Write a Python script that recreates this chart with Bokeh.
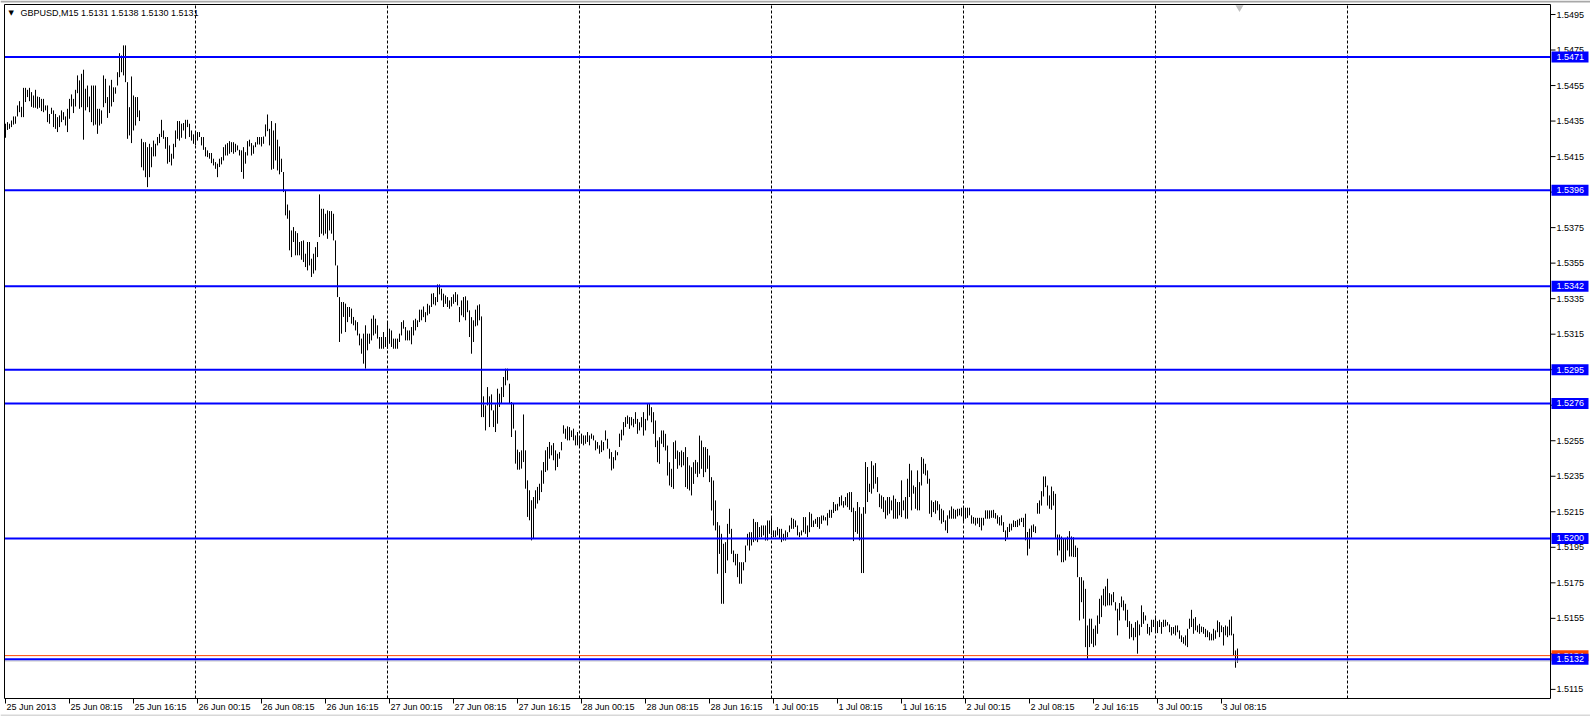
from bokeh.plotting import figure
from bokeh.models import Range1d
from bokeh.core.properties import value
from bokeh.embed import file_html
from bokeh.resources import INLINE

# ---------------- data ----------------
symbol = "GBPUSD,M15"
last_ohlc = [1.5131, 1.5138, 1.5130, 1.5131]
levels = [1.5471, 1.5396, 1.5342, 1.5295, 1.5276, 1.5200, 1.5132]
ask_price = 1.5134
bid_price = 1.5131

time_labels = ["25 Jun 2013", "25 Jun 08:15", "25 Jun 16:15", "26 Jun 00:15", "26 Jun 08:15",
               "26 Jun 16:15", "27 Jun 00:15", "27 Jun 08:15", "27 Jun 16:15", "28 Jun 00:15",
               "28 Jun 08:15", "28 Jun 16:15", "1 Jul 00:15", "1 Jul 08:15", "1 Jul 16:15",
               "2 Jul 00:15", "2 Jul 08:15", "2 Jul 16:15", "3 Jul 00:15", "3 Jul 08:15"]
bars_per_label = 32
bars_per_day = 96
y_ticks = [1.5115, 1.5135, 1.5155, 1.5175, 1.5195, 1.5215, 1.5235, 1.5255, 1.5275, 1.5295,
           1.5315, 1.5335, 1.5355, 1.5375, 1.5395, 1.5415, 1.5435, 1.5455, 1.5475, 1.5495]

highs_a = [1.54335, 1.54344, 1.54335, 1.54353, 1.54376, 1.54376, 1.54438, 1.54462, 1.54430, 1.54537,
           1.54537, 1.54526, 1.54537, 1.54513, 1.54494, 1.54526, 1.54488, 1.54485, 1.54475, 1.54475,
           1.54438, 1.54438, 1.54390, 1.54425, 1.54410, 1.54390, 1.54372, 1.54382, 1.54410, 1.54400,
           1.54376, 1.54419, 1.54475, 1.54500, 1.54475, 1.54526, 1.54607, 1.54579, 1.54616, 1.54639,
           1.54532, 1.54550, 1.54488, 1.54550, 1.54550, 1.54550, 1.54419, 1.54419, 1.54410, 1.54607,
           1.54588, 1.54485, 1.54550, 1.54582, 1.54540, 1.54540, 1.54625, 1.54732, 1.54719, 1.54776,
           1.54776, 1.54569, 1.54428, 1.54601, 1.54494, 1.54485, 1.54485, 1.54410, 1.54250, 1.54231,
           1.54231, 1.54203, 1.54222, 1.54203, 1.54240, 1.54222, 1.54260, 1.54278, 1.54357, 1.54297,
           1.54260, 1.54260, 1.54213, 1.54166, 1.54222, 1.54297, 1.54350, 1.54350, 1.54335, 1.54339,
           1.54357, 1.54357, 1.54335, 1.54297, 1.54275, 1.54288, 1.54288, 1.54288, 1.54260, 1.54260,
           1.54203, 1.54185, 1.54170, 1.54170, 1.54138]
lows_a = [1.54256, 1.54300, 1.54306, 1.54316, 1.54330, 1.54335, 1.54376, 1.54400, 1.54372, 1.54372,
          1.54457, 1.54485, 1.54462, 1.54430, 1.54425, 1.54425, 1.54419, 1.54425, 1.54406, 1.54400,
          1.54410, 1.54344, 1.54335, 1.54390, 1.54316, 1.54306, 1.54288, 1.54316, 1.54344, 1.54357,
          1.54325, 1.54288, 1.54363, 1.54432, 1.54395, 1.54432, 1.54507, 1.54419, 1.54428, 1.54245,
          1.54410, 1.54428, 1.54400, 1.54344, 1.54325, 1.54330, 1.54278, 1.54325, 1.54335, 1.54428,
          1.54451, 1.54368, 1.54395, 1.54432, 1.54457, 1.54504, 1.54550, 1.54597, 1.54625, 1.54607,
          1.54569, 1.54250, 1.54269, 1.54226, 1.54297, 1.54325, 1.54372, 1.54350, 1.54090, 1.54072,
          1.54034, 1.53978, 1.54034, 1.54090, 1.54151, 1.54151, 1.54213, 1.54226, 1.54260, 1.54250,
          1.54194, 1.54110, 1.54119, 1.54100, 1.54138, 1.54203, 1.54250, 1.54240, 1.54256, 1.54297,
          1.54250, 1.54316, 1.54260, 1.54240, 1.54222, 1.54213, 1.54240, 1.54260, 1.54213, 1.54188,
          1.54151, 1.54147, 1.54138, 1.54113, 1.54100]

highs_b = [1.54119, 1.54110, 1.54138, 1.54147, 1.54203, 1.54218, 1.54226, 1.54237, 1.54231, 1.54231,
           1.54222, 1.54213, 1.54188, 1.54185, 1.54203, 1.54175, 1.54237, 1.54245, 1.54226, 1.54213,
           1.54231, 1.54260, 1.54260, 1.54260, 1.54263, 1.54331, 1.54387, 1.54306, 1.54350, 1.54297,
           1.54338, 1.54245, 1.54207, 1.54138, 1.54063, 1.53960, 1.53880, 1.53847, 1.53734, 1.53753,
           1.53730, 1.53719, 1.53669, 1.53674, 1.53678, 1.53603, 1.53669, 1.53669, 1.53575, 1.53603,
           1.53640, 1.53669, 1.53937, 1.53856, 1.53856, 1.53828, 1.53847, 1.53843, 1.53843, 1.53828,
           1.53678, 1.53537, 1.53359, 1.53331, 1.53331, 1.53322, 1.53303, 1.53303, 1.53294, 1.53247,
           1.53228, 1.53218, 1.53153, 1.53125, 1.53153, 1.53200, 1.53153, 1.53153, 1.53237, 1.53256,
           1.53237, 1.53200, 1.53134, 1.53134, 1.53162, 1.53134, 1.53218, 1.53181, 1.53171, 1.53125,
           1.53125, 1.53125, 1.53153, 1.53218, 1.53228, 1.53190, 1.53171, 1.53171, 1.53190, 1.53228,
           1.53237, 1.53228, 1.53288]
lows_b = [1.54081, 1.54034, 1.54091, 1.54106, 1.54128, 1.54156, 1.54156, 1.54166, 1.54175, 1.54166,
          1.54175, 1.54185, 1.54156, 1.54063, 1.54025, 1.54110, 1.54156, 1.54207, 1.54156, 1.54166,
          1.54203, 1.54218, 1.54218, 1.54207, 1.54222, 1.54263, 1.54293, 1.54213, 1.54076, 1.54081,
          1.54128, 1.54072, 1.54050, 1.54063, 1.53950, 1.53819, 1.53800, 1.53622, 1.53584, 1.53669,
          1.53594, 1.53594, 1.53594, 1.53569, 1.53556, 1.53528, 1.53509, 1.53537, 1.53472, 1.53491,
          1.53509, 1.53584, 1.53697, 1.53716, 1.53706, 1.53716, 1.53687, 1.53734, 1.53716, 1.53678,
          1.53537, 1.53359, 1.53106, 1.53153, 1.53247, 1.53162, 1.53218, 1.53247, 1.53209, 1.53200,
          1.53171, 1.53143, 1.53087, 1.53040, 1.52984, 1.52956, 1.53059, 1.53096, 1.53115, 1.53143,
          1.53153, 1.53125, 1.53068, 1.53068, 1.53068, 1.53078, 1.53068, 1.53096, 1.53078, 1.53068,
          1.53068, 1.53068, 1.53106, 1.53143, 1.53181, 1.53115, 1.53115, 1.53115, 1.53093, 1.53143,
          1.53171, 1.53190, 1.53218]

highs_c = [1.53288, 1.53306, 1.53274, 1.53321, 1.53312, 1.53378, 1.53381, 1.53359, 1.53430, 1.53430,
           1.53406, 1.53378, 1.53368, 1.53359, 1.53340, 1.53359, 1.53374, 1.53387, 1.53374, 1.53303,
           1.53340, 1.53359, 1.53363, 1.53340, 1.53284, 1.53246, 1.53228, 1.53288, 1.53312, 1.53318,
           1.53250, 1.52800, 1.52749, 1.52852, 1.52800, 1.52811, 1.52721, 1.52755, 1.52843, 1.52815,
           1.52852, 1.52909, 1.52956, 1.52956, 1.52871, 1.52768, 1.52759, 1.52608, 1.52500, 1.52486,
           1.52496, 1.52698, 1.52496, 1.52327, 1.52271, 1.52215, 1.52233, 1.52271, 1.52290, 1.52308,
           1.52383, 1.52430, 1.52496, 1.52515, 1.52543, 1.52524, 1.52537, 1.52496, 1.52477, 1.52486,
           1.52543, 1.52637, 1.52618, 1.52631, 1.52627, 1.52608, 1.52618, 1.52580, 1.52599, 1.52571,
           1.52590, 1.52580, 1.52580, 1.52599, 1.52580, 1.52590, 1.52580, 1.52552, 1.52543, 1.52524,
           1.52552, 1.52543, 1.52608, 1.52561, 1.52505, 1.52486, 1.52458, 1.52496, 1.52486, 1.52590,
           1.52612, 1.52655, 1.52683]
lows_c = [1.53228, 1.53246, 1.53218, 1.53256, 1.53265, 1.53303, 1.53318, 1.53312, 1.53331, 1.53374,
          1.53340, 1.53303, 1.53321, 1.53303, 1.53293, 1.53306, 1.53321, 1.53331, 1.53312, 1.53218,
          1.53256, 1.53246, 1.53228, 1.53274, 1.53134, 1.53040, 1.53106, 1.53194, 1.53199, 1.53228,
          1.52683, 1.52683, 1.52608, 1.52749, 1.52627, 1.52721, 1.52627, 1.52599, 1.52646, 1.52740,
          1.52759, 1.52796, 1.52862, 1.52890, 1.52759, 1.52571, 1.52618, 1.52421, 1.52387, 1.52387,
          1.52393, 1.52430, 1.52280, 1.52121, 1.52102, 1.51989, 1.51999, 1.52168, 1.52196, 1.52215,
          1.52261, 1.52308, 1.52374, 1.52383, 1.52449, 1.52468, 1.52440, 1.52383, 1.52402, 1.52449,
          1.52496, 1.52590, 1.52561, 1.52552, 1.52552, 1.52571, 1.52552, 1.52524, 1.52524, 1.52515,
          1.52533, 1.52524, 1.52533, 1.52543, 1.52524, 1.52561, 1.52552, 1.52496, 1.52505, 1.52477,
          1.52486, 1.52496, 1.52552, 1.52505, 1.52449, 1.52383, 1.52393, 1.52440, 1.52468, 1.52515,
          1.52552, 1.52580, 1.52627]

highs_d = [1.52692, 1.52683, 1.52683, 1.52673, 1.52711, 1.52673, 1.52654, 1.52683, 1.52711, 1.52673,
           1.52761, 1.52758, 1.52739, 1.52711, 1.52664, 1.52551, 1.52570, 1.52608, 1.52608, 1.52589,
           1.52523, 1.52429, 1.52392, 1.52542, 1.52551, 1.52495, 1.52486, 1.52495, 1.52486, 1.52514,
           1.52458, 1.52411, 1.52401, 1.52429, 1.52442, 1.52429, 1.52579, 1.52551, 1.52514, 1.52514,
           1.52504, 1.52467, 1.52345, 1.52326, 1.52214, 1.52092, 1.52073, 1.52026, 1.51970, 1.51979,
           1.52082, 1.52167, 1.52054, 1.51932, 1.51913, 1.51913, 1.51866, 1.51866, 1.51866, 1.51960,
           1.52026, 1.52035, 1.52035, 1.52110, 1.52092, 1.52092, 1.52064, 1.52073, 1.52073, 1.52073,
           1.52101, 1.52101, 1.52120, 1.52045, 1.52045, 1.52064, 1.52054, 1.52054, 1.52026, 1.52045,
           1.52035, 1.52073, 1.52116, 1.52110, 1.52101, 1.52073, 1.52035, 1.52045, 1.52120, 1.52120,
           1.52073, 1.52148, 1.52139, 1.52101, 1.52110, 1.52120, 1.52120, 1.52129, 1.52129, 1.52120,
           1.52142, 1.52161]
lows_d = [1.52645, 1.52617, 1.52636, 1.52626, 1.52645, 1.52589, 1.52608, 1.52626, 1.52579, 1.52608,
          1.52664, 1.52692, 1.52654, 1.52589, 1.52514, 1.52429, 1.52420, 1.52533, 1.52514, 1.52495,
          1.52354, 1.52298, 1.52289, 1.52279, 1.52448, 1.52392, 1.52411, 1.52401, 1.52411, 1.52289,
          1.52279, 1.52270, 1.52242, 1.52307, 1.52364, 1.52345, 1.52364, 1.52392, 1.52345, 1.52373,
          1.52392, 1.52317, 1.52157, 1.52073, 1.52045, 1.51801, 1.51913, 1.51632, 1.51632, 1.51805,
          1.51876, 1.52026, 1.51913, 1.51866, 1.51848, 1.51782, 1.51745, 1.51745, 1.51820, 1.51866,
          1.51960, 1.51932, 1.51960, 1.51979, 1.51988, 1.51979, 1.52007, 1.52007, 1.52017, 1.51988,
          1.51988, 1.52026, 1.52017, 1.52007, 1.52007, 1.52017, 1.51998, 1.51979, 1.51988, 1.51988,
          1.52007, 1.52035, 1.52054, 1.52054, 1.52064, 1.52017, 1.52007, 1.52017, 1.52035, 1.52026,
          1.52007, 1.52035, 1.52064, 1.52064, 1.52082, 1.52064, 1.52054, 1.52082, 1.52101, 1.52101,
          1.52073, 1.52116]

highs_e = [1.52161, 1.52205, 1.52192, 1.52195, 1.52233, 1.52242, 1.52210, 1.52233, 1.52255, 1.52261,
           1.52261, 1.52173, 1.52154, 1.52205, 1.52176, 1.52139, 1.52176, 1.52430, 1.52402, 1.52308,
           1.52435, 1.52411, 1.52424, 1.52345, 1.52252, 1.52242, 1.52233, 1.52214, 1.52233, 1.52233,
           1.52214, 1.52242, 1.52223, 1.52205, 1.52205, 1.52327, 1.52214, 1.52233, 1.52336, 1.52420,
           1.52383, 1.52298, 1.52289, 1.52383, 1.52317, 1.52458, 1.52449, 1.52420, 1.52383, 1.52336,
           1.52214, 1.52205, 1.52214, 1.52210, 1.52192, 1.52167, 1.52158, 1.52102, 1.52130, 1.52158,
           1.52180, 1.52167, 1.52161, 1.52167, 1.52167, 1.52173, 1.52173, 1.52173, 1.52173, 1.52173,
           1.52130, 1.52120, 1.52116, 1.52116, 1.52116, 1.52116, 1.52116, 1.52158, 1.52158, 1.52158,
           1.52158, 1.52161, 1.52143, 1.52130, 1.52120, 1.52130, 1.52092, 1.52045, 1.52064, 1.52083,
           1.52083, 1.52102, 1.52098, 1.52105, 1.52111, 1.52116, 1.52116, 1.52139, 1.52036, 1.52055,
           1.52073, 1.52079, 1.52068]
lows_e = [1.52116, 1.52143, 1.52154, 1.52158, 1.52180, 1.52186, 1.52173, 1.52186, 1.52176, 1.52161,
          1.52148, 1.51985, 1.52036, 1.52026, 1.51989, 1.51805, 1.51805, 1.52139, 1.52205, 1.52261,
          1.52252, 1.52280, 1.52308, 1.52261, 1.52176, 1.52167, 1.52148, 1.52111, 1.52130, 1.52139,
          1.52158, 1.52111, 1.52111, 1.52111, 1.52130, 1.52120, 1.52158, 1.52111, 1.52111, 1.52233,
          1.52158, 1.52252, 1.52167, 1.52158, 1.52158, 1.52298, 1.52364, 1.52355, 1.52308, 1.52139,
          1.52120, 1.52148, 1.52139, 1.52158, 1.52102, 1.52083, 1.52092, 1.52045, 1.52030, 1.52111,
          1.52111, 1.52111, 1.52111, 1.52124, 1.52130, 1.52124, 1.52098, 1.52111, 1.52116, 1.52130,
          1.52083, 1.52083, 1.52073, 1.52083, 1.52064, 1.52045, 1.52073, 1.52111, 1.52111, 1.52111,
          1.52116, 1.52116, 1.52111, 1.52083, 1.52073, 1.52073, 1.52036, 1.51985, 1.52004, 1.52036,
          1.52045, 1.52064, 1.52064, 1.52064, 1.52073, 1.52092, 1.52064, 1.51989, 1.51904, 1.51942,
          1.52004, 1.52036, 1.52030]

highs_f = [1.52199, 1.52214, 1.52266, 1.52349, 1.52349, 1.52298, 1.52242, 1.52292, 1.52266, 1.52251,
           1.52022, 1.52022, 1.52011, 1.51998, 1.52003, 1.52011, 1.52041, 1.52011, 1.52007, 1.51960,
           1.51947, 1.51782, 1.51782, 1.51763, 1.51716, 1.51510, 1.51548, 1.51548, 1.51491, 1.51510,
           1.51566, 1.51660, 1.51679, 1.51716, 1.51730, 1.51773, 1.51692, 1.51685, 1.51698, 1.51641,
           1.51604, 1.51636, 1.51673, 1.51651, 1.51632, 1.51598, 1.51534, 1.51519, 1.51497, 1.51529,
           1.51538, 1.51516, 1.51623, 1.51585, 1.51566, 1.51519, 1.51501, 1.51542, 1.51542, 1.51557,
           1.51534, 1.51542, 1.51529, 1.51542, 1.51542, 1.51529, 1.51516, 1.51501, 1.51501, 1.51510,
           1.51510, 1.51482, 1.51454, 1.51444, 1.51454, 1.51491, 1.51548, 1.51598, 1.51548, 1.51557,
           1.51510, 1.51519, 1.51504, 1.51501, 1.51491, 1.51482, 1.51472, 1.51463, 1.51491, 1.51482,
           1.51538, 1.51529, 1.51510, 1.51501, 1.51510, 1.51504, 1.51542, 1.51561, 1.51463, 1.51369,
           1.51380]
lows_f = [1.52139, 1.52139, 1.52185, 1.52236, 1.52289, 1.52185, 1.52167, 1.52161, 1.52185, 1.52003,
          1.51904, 1.51932, 1.51866, 1.51866, 1.51876, 1.51932, 1.51898, 1.51898, 1.51895, 1.51895,
          1.51782, 1.51538, 1.51641, 1.51548, 1.51388, 1.51322, 1.51388, 1.51407, 1.51388, 1.51397,
          1.51463, 1.51519, 1.51557, 1.51623, 1.51617, 1.51623, 1.51623, 1.51623, 1.51641, 1.51594,
          1.51454, 1.51538, 1.51613, 1.51594, 1.51538, 1.51501, 1.51435, 1.51444, 1.51426, 1.51444,
          1.51351, 1.51454, 1.51501, 1.51519, 1.51538, 1.51463, 1.51454, 1.51472, 1.51501, 1.51472,
          1.51467, 1.51501, 1.51463, 1.51501, 1.51504, 1.51510, 1.51472, 1.51454, 1.51463, 1.51454,
          1.51472, 1.51435, 1.51416, 1.51407, 1.51397, 1.51388, 1.51491, 1.51501, 1.51463, 1.51482,
          1.51472, 1.51463, 1.51472, 1.51463, 1.51444, 1.51444, 1.51426, 1.51426, 1.51426, 1.51435,
          1.51472, 1.51444, 1.51472, 1.51397, 1.51454, 1.51444, 1.51454, 1.51454, 1.51341, 1.51272,
          1.51300]

highs = highs_a + highs_b + highs_c + highs_d + highs_e + highs_f
lows = lows_a + lows_b + lows_c + lows_d + lows_e + lows_f
assert len(highs) == len(lows), (len(highs), len(lows))
bar_index = list(range(len(highs)))

# ---------------- layout (pixel geometry of the terminal window) ----------------
FONT = "Liberation Sans"
W, H = 1590, 716
BAR_PX = 2.0          # horizontal pixels per M15 bar
X0_PX = 5.0           # pixel column of the first bar
PRICE_REF, PY_REF, PX_PER_PRICE = 1.5495, 14.0, 17760.0   # vertical scale of the chart


def xk(px):
    return (px - X0_PX) / BAR_PX


def yp(py):
    return PRICE_REF - (py - PY_REF) / PX_PER_PRICE


x_left, x_right = xk(4), xk(1550)
y_top, y_bot = yp(4), yp(698)

p = figure(width=W, height=H, x_range=Range1d(xk(0), xk(W)), y_range=Range1d(yp(H), yp(0)),
           x_axis_location=None, y_axis_location=None, output_backend="svg",
           toolbar_location=None, min_border=0, outline_line_color=None,
           background_fill_color="white", border_fill_color="white")
p.grid.visible = False

# window edges
p.segment(x0=[xk(0)], y0=[yp(1)], x1=[xk(W)], y1=[yp(1)], line_color="#A8A8A8", line_width=2)
p.segment(x0=[xk(0)], y0=[yp(H - 1)], x1=[xk(W)], y1=[yp(H - 1)], line_color="#D8D8D8", line_width=2)

# vertical dashed day separators (00:00 bar of each day)
day_pos = [d * bars_per_day - 1 for d in range(1, 8)]
p.segment(x0=day_pos, y0=[y_bot] * len(day_pos), x1=day_pos, y1=[y_top] * len(day_pos),
          line_color="black", line_width=1, line_dash="3 2")

# price bars (high-low)
p.segment(x0=bar_index, y0=lows, x1=bar_index, y1=highs, line_color="black", line_width=1)

# bid / ask / horizontal levels
p.segment(x0=[x_left], y0=[bid_price], x1=[x_right], y1=[bid_price], line_color="#C0C0C0", line_width=1)
p.segment(x0=[x_left], y0=[ask_price], x1=[x_right], y1=[ask_price], line_color="#FF4500", line_width=1)
p.segment(x0=[x_left] * len(levels), y0=levels, x1=[x_right] * len(levels), y1=levels,
          line_color="#0000FF", line_width=2)

# chart shift marker
p.scatter(x=[len(highs)], y=[yp(7)], marker="inverted_triangle", size=8,
          fill_color="#C0C0C0", line_color=None)

# chart frame
p.quad(left=[x_left], right=[x_right], bottom=[y_bot], top=[y_top],
       fill_color=None, line_color="black", line_width=1)

# price scale (right)
p.segment(x0=[x_right] * len(y_ticks), y0=y_ticks, x1=[xk(1555)] * len(y_ticks), y1=y_ticks,
          line_color="black", line_width=1)
p.text(x=[xk(1556)] * len(y_ticks), y=y_ticks, text=[f"{v:.4f}" for v in y_ticks],
       text_font=value(FONT), text_font_size=value("9px"), text_color="black",
       text_align="left", text_baseline="middle")

# time scale (bottom)
label_pos = [i * bars_per_label for i in range(len(time_labels))]
p.segment(x0=label_pos, y0=[y_bot] * len(label_pos), x1=label_pos, y1=[yp(703)] * len(label_pos),
          line_color="black", line_width=1)
p.text(x=label_pos, y=[yp(706.5)] * len(label_pos), text=time_labels, x_offset=1,
       text_font=value(FONT), text_font_size=value("9px"), text_color="black",
       text_align="left", text_baseline="middle")


# price boxes on the scale (ask first, horizontal levels drawn on top of it)
def price_boxes(vals, color):
    p.rect(x=[xk(1569.5)] * len(vals), y=vals, width=37, height=11,
           width_units="screen", height_units="screen", fill_color=color, line_color=None)
    p.text(x=[xk(1556)] * len(vals), y=vals, text=[f"{v:.4f}" for v in vals],
           text_font=value(FONT), text_font_size=value("9px"), text_color="white",
           text_align="left", text_baseline="middle")


price_boxes([ask_price], "#FF4500")
price_boxes(levels, "#0000FF")

# header
p.text(x=[xk(8)], y=[yp(12)], text=["\u25BC"], text_font=value("DejaVu Sans"),
       text_font_size=value("7px"), text_color="black", text_align="left", text_baseline="middle")
header = f"{symbol}  " + " ".join(f"{v:.4f}" for v in last_ohlc)
p.text(x=[xk(20)], y=[yp(12.5)], text=[header], text_font=value(FONT),
       text_font_size=value("9px"), text_color="black", text_align="left", text_baseline="middle")

open("out.html", "w").write(file_html(p, INLINE))
